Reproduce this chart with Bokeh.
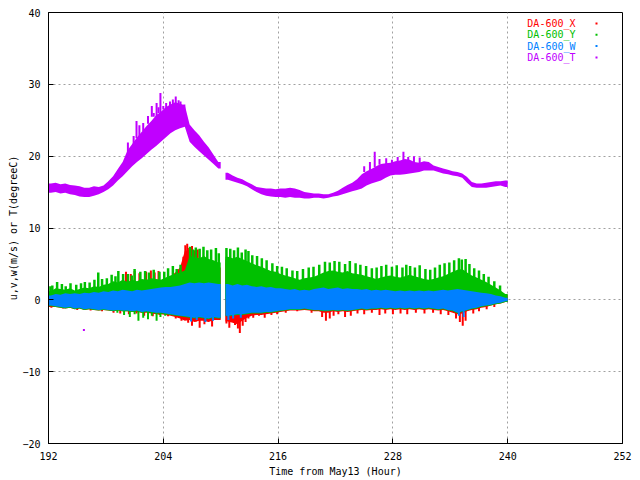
import numpy as np
from bokeh.plotting import figure
from bokeh.models import FixedTicker, Label, BoxAnnotation
from bokeh.embed import file_html
from bokeh.resources import INLINE

nan = float("nan")

# ---------------- data ----------------
# 0.5-hour bins from 192 h to 240 h (96 bins); each series given as lower/upper envelope per bin
BIN_START = 192.0
BIN_WIDTH = 0.5
N_BINS = 96

X_TICKS = [192, 204, 216, 228, 240, 252]
Y_TICKS = [-20, -10, 0, 10, 20, 30, 40]
SERIES_NAMES = ["DA-600_X", "DA-600_Y", "DA-600_W", "DA-600_T"]
SERIES_COLORS = ["#ff0000", "#00c000", "#0080ff", "#c000ff"]
X_TITLE = "Time from May13 (Hour)"
Y_TITLE = "u,v,w(m/s) or T(degreeC)"

T_HI = [16.2, 16.3, 16.1, 16.2, 16.0, 15.9, 15.8, 15.6,
        15.6, 15.8, 15.7, 15.9, 16.5, 17.2, 18.2, 19.2,
        20.8, 21.7, 22.6, 23.4, 24.2, 24.9, 25.7, 26.2,
        26.8, 27.2, 27.5, 27.3, 27.1, 24.4, 23.6, 22.9,
        22.0, 21.2, 20.2, 19.2, nan, 17.7, 17.3, 17.0,
        16.8, 16.4, 16.1, 15.7, 15.6, 15.5, 15.5, 15.4,
        15.5, 15.5, 15.6, 15.5, 15.3, 15.0, 14.9, 14.8,
        14.8, 14.7, 14.7, 14.9, 15.2, 15.6, 16.0, 16.3,
        16.8, 17.5, 17.9, 18.2, 18.6, 18.9, 19.0, 19.1,
        19.3, 19.4, 19.6, 19.5, 19.2, 19.1, 19.3, 19.2,
        18.7, 18.5, 18.3, 18.1, 17.9, 17.8, 17.6, 17.1,
        16.4, 16.2, 16.2, 16.3, 16.4, 16.5, 16.5, 16.6]
T_LO = [14.9, 15.0, 14.8, 14.9, 14.7, 14.6, 14.4, 14.3,
        14.3, 14.5, 14.7, 15.0, 15.4, 15.9, 16.6, 17.2,
        17.9, 18.6, 19.2, 19.7, 20.3, 20.9, 21.4, 22.0,
        22.6, 23.2, 23.6, 23.9, 24.1, 22.0, 21.3, 20.7,
        20.1, 19.5, 18.9, 18.3, nan, 16.7, 16.5, 16.3,
        16.1, 15.8, 15.4, 15.0, 14.7, 14.5, 14.4, 14.3,
        14.3, 14.2, 14.3, 14.2, 14.2, 14.1, 14.1, 14.2,
        14.2, 14.1, 14.2, 14.4, 14.5, 14.7, 14.9, 15.1,
        15.3, 15.5, 15.9, 16.2, 16.4, 16.6, 17.0, 17.3,
        17.4, 17.4, 17.5, 17.6, 17.7, 17.8, 18.0, 18.0,
        18.0, 17.8, 17.6, 17.5, 17.3, 17.2, 17.0, 16.3,
        15.7, 15.6, 15.6, 15.6, 15.7, 15.8, 15.9, 15.7]

W_HI = [0.6, 0.8, 0.7, 0.9, 0.8, 0.9, 0.8, 1.0,
        0.9, 1.1, 1.0, 1.2, 1.1, 1.3, 1.2, 1.4,
        1.3, 1.2, 1.4, 1.3, 1.4, 1.5, 1.6, 1.7,
        1.8, 1.8, 1.9, 2.0, 2.2, 2.4, 2.3, 2.4,
        2.3, 2.4, 2.3, 2.2, nan, 2.2, 2.0, 2.2,
        2.0, 2.1, 1.9, 1.8, 1.9, 1.7, 1.8, 1.6,
        1.6, 1.5, 1.4, 1.5, 1.3, 1.4, 1.3, 1.5,
        1.6, 1.7, 1.5, 1.6, 1.7, 1.5, 1.6, 1.5,
        1.5, 1.4, 1.5, 1.3, 1.4, 1.3, 1.4, 1.3,
        1.2, 1.3, 1.2, 1.3, 1.2, 1.3, 1.2, 1.3,
        1.2, 1.3, 1.4, 1.3, 1.4, 1.5, 1.4, 1.3,
        1.2, 1.1, 1.0, 0.9, 0.8, 0.6, 0.5, 0.3]
W_LO = [-0.8, -0.9, -1.0, -1.1, -1.0, -1.2, -1.1, -1.3,
        -1.2, -1.3, -1.4, -1.3, -1.4, -1.5, -1.4, -1.5,
        -1.5, -1.6, -1.5, -1.7, -1.6, -1.7, -1.8, -1.8,
        -1.9, -2.0, -2.1, -2.2, -2.3, -2.4, -2.5, -2.4,
        -2.5, -2.6, -2.4, -2.5, nan, -2.2, -2.1, -2.0,
        -2.0, -1.9, -1.8, -1.8, -1.8, -1.7, -1.7, -1.6,
        -1.5, -1.4, -1.3, -1.3, -1.3, -1.2, -1.3, -1.4,
        -1.4, -1.5, -1.5, -1.4, -1.5, -1.4, -1.5, -1.4,
        -1.3, -1.2, -1.3, -1.2, -1.2, -1.1, -1.2, -1.1,
        -1.2, -1.1, -1.2, -1.1, -1.2, -1.1, -1.2, -1.1,
        -1.2, -1.3, -1.2, -1.4, -1.5, -1.8, -1.6, -1.4,
        -1.2, -1.1, -0.9, -0.8, -0.7, -0.5, -0.4, -0.2]

Y_HI = [1.2, 1.6, 1.5, 1.4, 1.6, 1.3, 1.5, 1.7,
        1.6, 1.9, 1.8, 2.1, 2.2, 2.6, 2.4, 2.8,
        2.5, 2.8, 2.6, 2.9, 2.8, 3.0, 2.9, 2.8,
        3.1, 3.4, 3.6, 3.8, 4.1, 6.1, 6.0, 5.8,
        6.1, 5.7, 5.5, 5.2, nan, 6.0, 5.8, 6.0,
        5.7, 5.4, 5.1, 4.8, 4.6, 4.3, 4.0, 3.9,
        3.6, 3.4, 3.2, 3.0, 2.8, 3.0, 3.1, 3.2,
        3.5, 3.8, 4.0, 4.1, 3.9, 3.8, 4.0, 3.7,
        3.6, 3.5, 3.3, 3.1, 2.9, 3.1, 3.3, 3.4,
        3.2, 3.1, 3.3, 3.5, 3.3, 3.1, 2.9, 2.8,
        2.9, 3.1, 3.3, 3.6, 3.9, 4.2, 4.3, 3.8,
        3.4, 3.1, 2.8, 2.5, 2.1, 1.7, 1.3, 0.8]

X_HI = [1.0, 1.3, 1.2, 1.1, 1.2, 1.1, 1.2, 1.3,
        1.3, 1.5, 1.4, 1.6, 1.8, 2.1, 2.0, 2.4,
        2.3, 2.6, 2.5, 2.8, 2.7, 2.9, 2.8, 2.7,
        2.9, 3.2, 3.8, 4.5, 6.8, 7.0, 6.5, 5.4,
        5.0, 4.8, 4.6, 4.5, nan, 5.2, 4.5, 4.3,
        4.0, 3.8, 3.6, 3.4, 3.3, 3.2, 3.0, 2.9,
        2.8, 2.7, 2.6, 2.5, 2.4, 2.5, 2.6, 2.7,
        2.9, 3.2, 3.3, 3.2, 3.1, 3.0, 3.2, 3.0,
        2.9, 2.8, 2.7, 2.5, 2.4, 2.6, 2.7, 2.8,
        2.7, 2.6, 2.8, 2.9, 2.8, 2.7, 2.6, 2.5,
        2.5, 2.7, 2.9, 3.0, 3.3, 3.5, 3.6, 3.2,
        2.9, 2.6, 2.4, 2.1, 1.7, 1.4, 1.1, 0.7]
X_LO = [-1.0, -1.0, -1.1, -1.2, -1.1, -1.3, -1.2, -1.4,
        -1.3, -1.4, -1.5, -1.4, -1.5, -1.6, -1.5, -1.6,
        -1.6, -1.7, -1.7, -1.8, -1.8, -1.9, -2.0, -2.0,
        -2.1, -2.2, -2.4, -2.6, -2.9, -2.8, -3.1, -2.9,
        -2.9, -3.1, -2.8, -2.8, nan, -3.0, -3.2, -3.4,
        -2.9, -2.5, -2.2, -2.1, -2.1, -2.0, -1.9, -1.8,
        -1.7, -1.6, -1.5, -1.5, -1.5, -1.4, -1.5, -1.6,
        -1.6, -1.8, -1.8, -1.6, -1.7, -1.6, -1.7, -1.6,
        -1.5, -1.4, -1.5, -1.4, -1.4, -1.3, -1.4, -1.3,
        -1.4, -1.3, -1.4, -1.3, -1.4, -1.3, -1.4, -1.3,
        -1.4, -1.5, -1.4, -1.6, -1.8, -2.0, -1.9, -1.6,
        -1.4, -1.3, -1.1, -1.0, -0.8, -0.6, -0.5, -0.3]

# isolated spikes: (hour, extreme value[, base value])
T_SPIKE_HOUR = [200.3, 200.9, 201.2, 201.5, 201.9, 202.4, 202.8, 203.0, 203.3, 203.5,
                203.7, 204.0, 204.3, 204.7, 205.0, 205.3, 205.6, 205.8, 206.2, 225.0,
                225.6, 226.1, 226.6, 227.3, 227.9, 228.5, 229.1, 229.6, 230.2, 230.8]
T_SPIKE_TOP = [21.9, 22.8, 24.9, 24.3, 24.6, 25.6, 27.0, 26.0, 27.4, 26.8,
               28.8, 27.0, 27.4, 27.6, 27.9, 28.3, 27.8, 27.6, 27.2, 18.6,
               19.2, 20.6, 19.6, 19.7, 19.5, 19.9, 20.6, 19.9, 20.0, 19.8]
T_SPIKE_BASE = [20.5, 21.5, 22.5, 22.5, 23.5, 24.5, 25.5, 25.5, 25.5, 26.0,
                26.0, 26.5, 26.5, 27.0, 27.0, 27.0, 27.0, 27.0, 26.5, 17.8,
                18.0, 18.5, 18.8, 18.9, 19.0, 19.0, 19.2, 19.2, 19.0, 19.0]
T_OUTLIER_HOUR = [195.7]
T_OUTLIER_VAL = [-4.2]

Y_UP_HOUR = [192.2, 192.4, 192.9, 193.4, 193.8, 194.3, 194.9, 195.4, 195.8, 196.3, 196.8,
             197.2, 197.6, 198.1, 198.6, 199.0, 199.3, 199.8, 200.3, 200.7, 201.0, 201.6,
             202.1, 202.5, 203.0, 203.6, 204.1, 204.5, 205.0, 205.4, 205.8, 206.8,
             207.1, 207.4, 207.8, 208.2, 208.6, 209.0, 209.5, 209.8, 210.6, 211.0,
             211.4, 211.8, 212.2, 212.6, 212.9, 213.3, 213.8, 214.3, 214.8, 215.4,
             215.9, 216.4, 216.9, 217.5, 218.0, 218.6, 219.2, 219.7, 220.3, 220.9,
             221.4, 221.9, 222.4, 223.0, 223.5, 224.1, 224.6, 225.2, 225.8, 226.3,
             226.8, 227.3, 227.9, 228.4, 229.0, 229.4, 229.8, 230.3, 230.8, 231.4,
             231.9, 232.4, 232.9, 233.4, 233.9, 234.4, 234.9, 235.2, 235.6, 236.0,
             236.5, 237.0, 237.5, 238.0, 238.6, 239.2]
Y_UP_TOP = [1.9, 2.0, 2.5, 2.2, 1.9, 2.3, 2.1, 2.3, 2.5, 2.4, 2.8,
            3.8, 2.9, 3.0, 3.5, 3.3, 4.0, 3.6, 3.6, 3.4, 4.3, 3.9,
            4.0, 3.8, 4.2, 3.9, 3.9, 4.4, 4.7, 4.3, 4.9, 7.4,
            7.0, 7.3, 7.1, 7.4, 6.9, 7.0, 7.2, 6.5, 7.2, 7.1,
            6.9, 7.3, 6.6, 7.0, 6.8, 6.2, 6.1, 5.8, 5.5, 5.1,
            4.7, 4.6, 4.4, 4.1, 4.0, 4.3, 4.5, 4.6, 4.9, 5.3,
            5.2, 5.4, 5.3, 5.0, 5.4, 5.1, 4.9, 4.7, 4.4, 4.5,
            4.7, 4.9, 4.6, 4.8, 4.5, 4.9, 4.7, 4.5, 4.8, 4.3,
            4.2, 4.5, 4.9, 5.1, 5.2, 5.5, 5.8, 5.6, 5.7, 5.0,
            4.4, 4.1, 3.6, 3.2, 2.6, 2.0]
Y_DOWN_HOUR = [199.2, 199.9, 200.5, 201.0, 201.4, 201.9, 202.4, 202.8, 203.3, 203.7, 204.2]
Y_DOWN_BOT = [-1.8, -2.1, -2.4, -2.0, -2.9, -2.5, -2.7, -2.2, -2.9, -2.4, -2.2]

X_UP_HOUR = [200.1, 200.6, 201.0, 201.5, 202.2, 202.7, 203.1, 203.5, 205.7, 205.9,
             206.1, 206.3, 206.5, 206.7, 207.0, 207.3, 207.6, 210.6, 229.8, 237.5]
X_UP_TOP = [3.9, 3.6, 4.0, 3.7, 3.9, 4.1, 3.8, 4.0, 4.3, 4.5,
            6.0, 7.6, 7.8, 7.2, 7.5, 6.9, 7.0, 5.6, 4.0, 2.8]
X_DOWN_HOUR = [192.3, 193.5, 195.0, 196.4, 197.6, 198.8, 199.5, 200.4, 201.2, 202.0,
               202.9, 203.6, 204.5, 205.3, 205.9, 206.6, 207.0, 207.4, 207.8, 208.3,
               208.7, 209.1, 209.6, 210.6, 210.9, 211.2, 211.5, 211.8, 212.0, 212.3,
               212.6, 212.9, 213.4, 214.0, 214.6, 215.3, 215.9, 216.8, 218.0, 219.5,
               220.6, 221.0, 221.4, 221.8, 222.3, 223.0, 223.6, 224.3, 225.0, 225.8,
               226.6, 227.2, 228.0, 228.8, 229.5, 230.4, 231.3, 232.2, 233.0, 233.8,
               234.6, 235.0, 235.3, 235.6, 236.4, 237.0, 237.8, 238.6]
X_DOWN_BOT = [-1.1, -1.2, -1.4, -1.5, -1.6, -1.8, -1.9, -2.0, -1.9, -2.2,
              -2.3, -2.1, -2.3, -2.6, -2.9, -3.2, -3.6, -3.0, -3.9, -3.4,
              -3.0, -3.7, -2.8, -3.3, -3.9, -2.8, -3.5, -4.0, -4.6, -3.6,
              -3.1, -2.6, -2.5, -2.2, -2.5, -2.1, -2.0, -1.8, -1.6, -1.8,
              -2.4, -2.9, -2.6, -2.2, -2.0, -2.4, -2.2, -1.9, -2.0, -1.8,
              -2.1, -1.9, -2.0, -1.9, -2.0, -1.8, -1.9, -1.8, -2.0, -2.1,
              -2.6, -3.1, -3.6, -2.9, -1.9, -1.6, -1.3, -1.0]

W_DOWN_HOUR = [206.9, 207.5, 208.4, 209.2, 210.8, 211.3, 212.1, 234.9, 235.4]
W_DOWN_BOT = [-3.0, -2.8, -3.1, -2.9, -2.8, -2.6, -2.5, -2.2, -2.4]

# ---------------- figure ----------------
FONT = "DejaVu Sans Mono"
p = figure(width=640, height=480, x_range=(192, 252), y_range=(-20, 40),
           output_backend="svg", toolbar_location=None,
           min_border_left=48, min_border_right=18, min_border_top=12, min_border_bottom=37,
           x_axis_label=X_TITLE, y_axis_label=Y_TITLE)
p.background_fill_color = "white"
p.border_fill_color = "white"
p.outline_line_color = "black"
p.outline_line_width = 1

p.xaxis.ticker = FixedTicker(ticks=X_TICKS)
p.yaxis.ticker = FixedTicker(ticks=Y_TICKS)
for ax in (p.xaxis, p.yaxis):
    ax.major_tick_in = 5
    ax.major_tick_out = 0
    ax.minor_tick_in = 0
    ax.minor_tick_out = 0
    ax.axis_line_color = "black"
    ax.major_tick_line_color = "black"
    ax.major_label_text_font = FONT
    ax.major_label_text_font_size = "10px"
    ax.major_label_text_color = "black"
    ax.axis_label_text_font = FONT
    ax.axis_label_text_font_size = "10px"
    ax.axis_label_text_font_style = "normal"
    ax.axis_label_text_color = "black"
p.xaxis.major_label_standoff = 8
p.xaxis.axis_label_standoff = 3
p.yaxis.major_label_standoff = 8
p.yaxis.axis_label_standoff = 0

p.grid.grid_line_color = "#a0a0a0"
p.grid.grid_line_dash = "2 3"
p.grid.grid_line_width = 1

centers = BIN_START + BIN_WIDTH * (np.arange(N_BINS) + 0.5)


def band(lo, hi, color):
    lo = np.asarray(lo, dtype=float)
    hi = np.asarray(hi, dtype=float)
    ok = ~np.isnan(lo)
    i = 0
    while i < N_BINS:
        if not ok[i]:
            i += 1
            continue
        j = i
        while j + 1 < N_BINS and ok[j + 1]:
            j += 1
        xs = np.concatenate([[centers[i] - BIN_WIDTH / 2], centers[i:j + 1], [centers[j] + BIN_WIDTH / 2]])
        y1 = np.concatenate([[lo[i]], lo[i:j + 1], [lo[j]]])
        y2 = np.concatenate([[hi[i]], hi[i:j + 1], [hi[j]]])
        p.varea(x=xs, y1=y1, y2=y2, fill_color=color)
        i = j + 1


def spikes(hours, ends, color, base=None, width=2.0):
    b = [0.0] * len(hours) if base is None else base
    p.segment(x0=hours, y0=b, x1=hours, y1=ends, line_color=color, line_width=width)


# gnuplot draws X, then Y, then W, then T
band(X_LO, X_HI, SERIES_COLORS[0])
spikes(X_UP_HOUR, X_UP_TOP, SERIES_COLORS[0])
spikes(X_DOWN_HOUR, X_DOWN_BOT, SERIES_COLORS[0])

Y_LO = [w - 0.1 for w in W_LO]
band(Y_LO, Y_HI, SERIES_COLORS[1])
spikes(Y_UP_HOUR, Y_UP_TOP, SERIES_COLORS[1], width=2.5)
spikes(Y_DOWN_HOUR, Y_DOWN_BOT, SERIES_COLORS[1])

band(W_LO, W_HI, SERIES_COLORS[2])
spikes(W_DOWN_HOUR, W_DOWN_BOT, SERIES_COLORS[2])

band(T_LO, T_HI, SERIES_COLORS[3])
spikes(T_SPIKE_HOUR, T_SPIKE_TOP, SERIES_COLORS[3], base=T_SPIKE_BASE, width=2.0)
p.rect(x=T_OUTLIER_HOUR, y=T_OUTLIER_VAL, width=2, height=2, width_units="screen",
       height_units="screen", fill_color=SERIES_COLORS[3], line_color=None)

# legend: coloured texts with a small dot to their right
for i, (name, col) in enumerate(zip(SERIES_NAMES, SERIES_COLORS)):
    ypos = 420 - i * 11.3
    p.add_layout(Label(x=527, y=ypos, x_units="screen", y_units="screen", text=name,
                       text_font=FONT, text_font_size="10px", text_color=col,
                       text_align="right", text_baseline="middle"))
    p.add_layout(BoxAnnotation(left=547, right=549, bottom=ypos - 1, top=ypos + 1,
                               left_units="screen", right_units="screen",
                               bottom_units="screen", top_units="screen",
                               fill_color=col, fill_alpha=1, line_color=None))

open("out.html", "w").write(file_html(p, INLINE))
